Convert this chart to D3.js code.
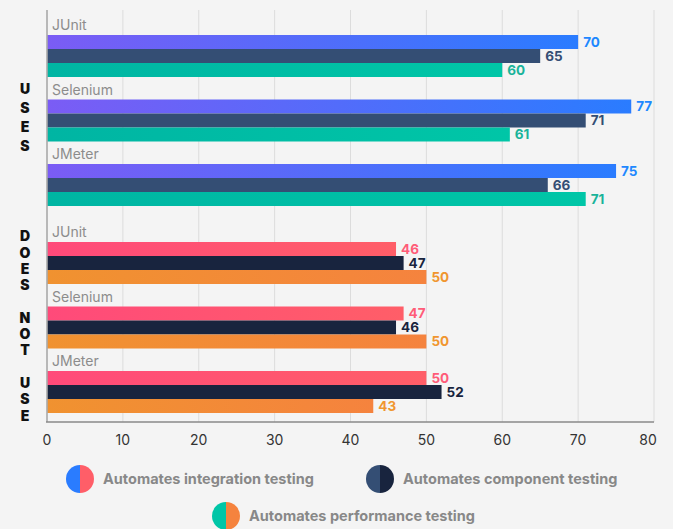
<!DOCTYPE html>
<html>
<head>
<meta charset="utf-8">
<script src="https://cdn.jsdelivr.net/npm/d3@7"></script>
<style>
  html, body { margin: 0; padding: 0; background: #f4f4f4; }
  svg { display: block; font-family: Inter, 'Open Sans', sans-serif; }
</style>
</head>
<body>
<svg id="chart" width="673" height="529"></svg>
<script>
const sections = ['USES', 'DOES NOT USE']
const tools = ['JUnit', 'Selenium', 'JMeter']
const series = ['Automates integration testing', 'Automates component testing', 'Automates performance testing']
const usesValues = [[70, 65, 60], [77, 71, 61], [75, 66, 71]]
const notUsesValues = [[46, 47, 50], [47, 46, 50], [50, 52, 43]]
const xTicks = [0, 10, 20, 30, 40, 50, 60, 70, 80]

// colours per section: [bar start, bar end, label]
const palette = [
    [['#7b5cf5', '#2a7cff', '#1e88ff'], ['#344e74', '#344e74', '#344e74'], ['#00b5a3', '#00c6a7', '#19b39a']],
    [['#ff4a7a', '#ff5e68', '#ff5c78'], ['#18243e', '#18243e', '#18243e'], ['#f09230', '#f5833e', '#f0962f']]
]

const svg = d3.select('#chart')
const margin = { left: 47, right: 19, top: 10 }
const axisY = 422

const x = d3.scaleLinear().domain([0, 80]).range([margin.left, 673 - margin.right])

// gradients
const defs = svg.append('defs')
palette.forEach((sec, si) => {
    sec.forEach((c, k) => {
        const g = defs.append('linearGradient').attr('id', `g${si}${k}`)
        g.append('stop').attr('offset', '0%').attr('stop-color', c[0])
        g.append('stop').attr('offset', '100%').attr('stop-color', c[1])
    })
})

// gridlines
svg.append('g')
    .selectAll('line')
    .data(xTicks.slice(1))
    .enter()
    .append('line')
    .attr('x1', d => x(d)).attr('x2', d => x(d))
    .attr('y1', margin.top).attr('y2', axisY)
    .attr('stroke', '#dcdcdc')
    .attr('stroke-width', 1)

// group layout
const groupStep = 64.5
const barH = 14
const sectionTop = [35, 242]
const sectionData = [usesValues, notUsesValues]

sectionData.forEach((vals, si) => {
    vals.forEach((row, gi) => {
        const y0 = sectionTop[si] + gi * groupStep
        svg.append('text')
            .attr('x', x(0) + 5)
            .attr('y', y0 - 5)
            .attr('fill', '#8c8c8c')
            .attr('font-size', 14)
            .text(tools[gi])
        row.forEach((v, k) => {
            svg.append('rect')
                .attr('x', x(0))
                .attr('y', y0 + k * barH)
                .attr('width', x(v) - x(0))
                .attr('height', barH)
                .attr('fill', `url(#g${si}${k})`)
            svg.append('text')
                .attr('x', x(v) + 5)
                .attr('y', y0 + k * barH + barH / 2)
                .attr('dy', '0.36em')
                .attr('fill', palette[si][k][2])
                .attr('font-size', 13.5)
                .attr('font-weight', 700)
                .text(v)
        })
    })
})

// section labels, stacked letters
const sectionCenter = [117, 326]
const letterStep = [19, 16.3]
sections.forEach((s, si) => {
    const chars = s.split('')
    const top = sectionCenter[si] - (chars.length - 1) * letterStep[si] / 2
    chars.forEach((c, i) => {
        svg.append('text')
            .attr('x', 25)
            .attr('y', top + i * letterStep[si])
            .attr('dy', '0.36em')
            .attr('text-anchor', 'middle')
            .attr('font-size', 14)
            .attr('font-weight', 900)
            .attr('fill', '#111')
            .text(c)
    })
})

// axes lines
svg.append('line')
    .attr('x1', x(0)).attr('x2', x(0))
    .attr('y1', margin.top).attr('y2', axisY)
    .attr('stroke', '#aaa').attr('stroke-width', 2).attr('opacity', 0.8)
svg.append('line')
    .attr('x1', x(0) - 1).attr('x2', x(80))
    .attr('y1', axisY).attr('y2', axisY)
    .attr('stroke', '#8a8a8a').attr('stroke-width', 1.5)

svg.append('g')
    .selectAll('text')
    .data(xTicks)
    .enter()
    .append('text')
    .attr('x', d => d === 80 ? x(d) - 6 : x(d))
    .attr('y', 440)
    .attr('dy', '0.36em')
    .attr('text-anchor', 'middle')
    .attr('font-size', 14)
    .attr('fill', '#333')
    .text(d => d)

// legend
const legendPos = [[80, 479], [380, 479], [226, 516]]
series.forEach((name, k) => {
    const [cx, cy] = legendPos[k]
    const r = 14
    const g = svg.append('g')
    g.append('path')
        .attr('d', `M${cx},${cy - r} A${r},${r} 0 0 0 ${cx},${cy + r} Z`)
        .attr('fill', palette[0][k][1])
    g.append('path')
        .attr('d', `M${cx},${cy - r} A${r},${r} 0 0 1 ${cx},${cy + r} Z`)
        .attr('fill', palette[1][k][1])
    g.append('text')
        .attr('x', cx + 23)
        .attr('y', cy)
        .attr('dy', '0.36em')
        .attr('font-size', 14.5)
        .attr('font-weight', 700)
        .attr('fill', '#888')
        .text(name)
})
</script>
</body>
</html>
